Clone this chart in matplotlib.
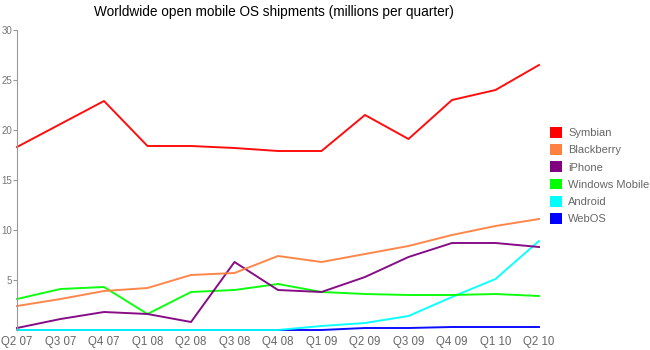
import matplotlib.pyplot as plt
from matplotlib.patches import Patch

plt.rcParams['font.family'] = ['Liberation Sans', 'DejaVu Sans']

quarters = ['Q2 07', 'Q3 07', 'Q4 07', 'Q1 08', 'Q2 08', 'Q3 08', 'Q4 08',
            'Q1 09', 'Q2 09', 'Q3 09', 'Q4 09', 'Q1 10', 'Q2 10']
symbian = [18.3, 20.6, 22.9, 18.4, 18.4, 18.2, 17.9, 17.9, 21.5, 19.1, 23.0, 24.0, 26.5]
blackberry = [2.4, 3.1, 3.9, 4.2, 5.5, 5.7, 7.4, 6.8, 7.6, 8.4, 9.5, 10.4, 11.1]
iphone = [0.2, 1.1, 1.8, 1.6, 0.8, 6.8, 4.0, 3.8, 5.3, 7.3, 8.7, 8.7, 8.3]
windows_mobile = [3.1, 4.1, 4.3, 1.6, 3.8, 4.0, 4.6, 3.8, 3.6, 3.5, 3.5, 3.6, 3.4]
android = [0, 0, 0, 0, 0, 0, 0, 0.4, 0.7, 1.4, 3.3, 5.1, 8.9]
webos = [0, 0, 0, 0, 0, 0, 0, 0, 0.2, 0.2, 0.3, 0.3, 0.3]

series = [('Symbian', symbian, '#ff0000'),
          ('Blackberry', blackberry, '#ff8040'),
          ('iPhone', iphone, '#800080'),
          ('Windows Mobile', windows_mobile, '#00ff00'),
          ('Android', android, '#00ffff'),
          ('WebOS', webos, '#0000ff')]

fig = plt.figure(figsize=(6.5, 3.5), dpi=100)
ax = fig.add_axes([17/650, 20/350, 522/650, 300/350])

x = range(len(quarters))
for name, vals, col in reversed(series):
    ax.plot(x, vals, color=col, lw=1.4, clip_on=False, alpha=0.95)

ax.set_xlim(0, len(quarters) - 1)
ax.set_ylim(0, 30)
ax.set_xticks(list(x))
ax.set_xticklabels(quarters)
ax.set_yticks([5, 10, 15, 20, 25, 30])
for s in ['top', 'right', 'bottom']:
    ax.spines[s].set_visible(False)
ax.spines['left'].set_color('#999999')
ax.tick_params(axis='y', colors='#999999', labelcolor='#777777', labelsize=7,
               length=3, pad=0.5)
ax.tick_params(axis='x', length=0, labelcolor='#666666', labelsize=8.3, pad=4)

fig.text(0.422, 0.966, 'Worldwide open mobile OS shipments (millions per quarter)',
         ha='center', va='center', fontsize=9.8, color='#000000')

handles = [Patch(facecolor=col, edgecolor='none', label=name) for name, _, col in series]
leg = fig.legend(handles=handles, loc='upper left', bbox_to_anchor=(0.846, 0.637),
                 frameon=False, fontsize=8, handlelength=1.1, handleheight=1.1,
                 handletextpad=0.55, labelspacing=0.55, borderaxespad=0,
                 borderpad=0)
for t in leg.get_texts():
    t.set_color('#666666')

fig.savefig('out.png', dpi=100)
